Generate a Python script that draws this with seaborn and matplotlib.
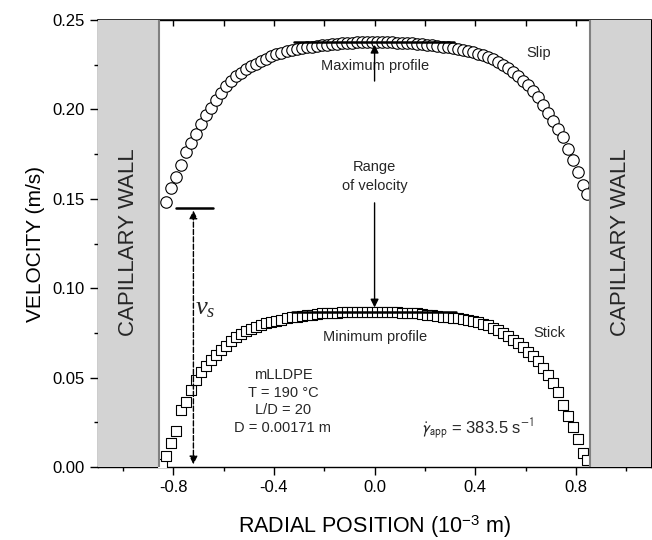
import matplotlib
matplotlib.use("Agg")
import matplotlib.pyplot as plt
import seaborn as sns
import pandas as pd
from matplotlib.ticker import MultipleLocator, FormatStrFormatter, NullFormatter

# radial positions (10^-3 m) and velocities (m/s)
slip_x = [-0.83, -0.81, -0.79, -0.77, -0.75, -0.73, -0.71, -0.69, -0.67, -0.65,
          -0.63, -0.61, -0.59, -0.57, -0.55, -0.53, -0.51, -0.49, -0.47, -0.45,
          -0.43, -0.41, -0.39, -0.37, -0.35, -0.33, -0.31, -0.29, -0.27, -0.25,
          -0.23, -0.21, -0.19, -0.17, -0.15, -0.13, -0.11, -0.09, -0.07, -0.05,
          -0.03, -0.01, 0.01, 0.03, 0.05, 0.07, 0.09, 0.11, 0.13, 0.15,
          0.17, 0.19, 0.21, 0.23, 0.25, 0.27, 0.29, 0.31, 0.33, 0.35,
          0.37, 0.39, 0.41, 0.43, 0.45, 0.47, 0.49, 0.51, 0.53, 0.55,
          0.57, 0.59, 0.61, 0.63, 0.65, 0.67, 0.69, 0.71, 0.73, 0.75,
          0.77, 0.79, 0.81, 0.83, 0.845]
slip_v = [0.148, 0.156, 0.162, 0.169, 0.176, 0.181, 0.186, 0.192, 0.197, 0.201,
          0.205, 0.209, 0.213, 0.216, 0.2185, 0.2205, 0.2225, 0.224, 0.2256, 0.227,
          0.2284, 0.2296, 0.2307, 0.2316, 0.2324, 0.2331, 0.2337, 0.2342, 0.2347, 0.2351,
          0.2355, 0.2359, 0.2362, 0.2365, 0.2368, 0.2370, 0.2372, 0.2374, 0.2375, 0.2376,
          0.2377, 0.2377, 0.2377, 0.2377, 0.2376, 0.2375, 0.2374, 0.2373, 0.2371, 0.2369,
          0.2367, 0.2364, 0.2361, 0.2358, 0.2355, 0.2351, 0.2347, 0.2343, 0.2338, 0.2332,
          0.2326, 0.2319, 0.2311, 0.2302, 0.2293, 0.2281, 0.2266, 0.225, 0.2232, 0.2208,
          0.2185, 0.216, 0.2135, 0.2105, 0.2068, 0.2027, 0.1978, 0.1935, 0.189, 0.1845,
          0.1778, 0.1718, 0.1652, 0.1575, 0.1525]

stick_x = [-0.845, -0.83, -0.81, -0.79, -0.77, -0.75, -0.73, -0.71, -0.69, -0.67,
           -0.65, -0.63, -0.61, -0.59, -0.57, -0.55, -0.53, -0.51, -0.49, -0.47,
           -0.45, -0.43, -0.41, -0.39, -0.37, -0.35, -0.33, -0.31, -0.29, -0.27,
           -0.25, -0.23, -0.21, -0.19, -0.17, -0.15, -0.13, -0.11, -0.09, -0.07,
           -0.05, -0.03, -0.01, 0.01, 0.03, 0.05, 0.07, 0.09, 0.11, 0.13,
           0.15, 0.17, 0.19, 0.21, 0.23, 0.25, 0.27, 0.29, 0.31, 0.33,
           0.35, 0.37, 0.39, 0.41, 0.43, 0.45, 0.47, 0.49, 0.51, 0.53,
           0.55, 0.57, 0.59, 0.61, 0.63, 0.65, 0.67, 0.69, 0.71, 0.73,
           0.75, 0.77, 0.79, 0.81, 0.83, 0.845]
stick_v = [0.002, 0.006, 0.0135, 0.020, 0.0319, 0.0365, 0.043, 0.0487, 0.0533, 0.0565,
           0.0597, 0.0628, 0.0655, 0.0678, 0.0704, 0.0727, 0.0744, 0.0759, 0.0773, 0.0785,
           0.0795, 0.0804, 0.0812, 0.0818, 0.0825, 0.0832, 0.0838, 0.0842, 0.0846, 0.085,
           0.0853, 0.0856, 0.0859, 0.0861, 0.0863, 0.0864, 0.0865, 0.0866, 0.0867, 0.0867,
           0.0867, 0.0867, 0.0867, 0.0867, 0.0867, 0.0866, 0.0866, 0.0865, 0.0864, 0.0863,
           0.0861, 0.0859, 0.0856, 0.0853, 0.0849, 0.0845, 0.0842, 0.0839, 0.0835, 0.0831,
           0.0826, 0.0820, 0.0815, 0.0809, 0.0800, 0.0792, 0.0780, 0.0765, 0.0748, 0.0733,
           0.0712, 0.0693, 0.0670, 0.0646, 0.0622, 0.0593, 0.0555, 0.0517, 0.0468, 0.0418,
           0.0348, 0.0285, 0.0222, 0.0155, 0.0080, 0.004]

wall_r = 0.855          # D / 2
max_profile = 0.2377
min_profile = 0.0867
vs_top = 0.145
vs_pos = -0.72

df_slip = pd.DataFrame({"r": slip_x, "v": slip_v})
df_stick = pd.DataFrame({"r": stick_x, "v": stick_v})

sns.set_theme(style="ticks")
plt.rcParams["font.family"] = ["Liberation Sans", "DejaVu Sans"]
plt.rcParams["mathtext.fontset"] = "custom"
plt.rcParams["mathtext.rm"] = "Liberation Sans"
plt.rcParams["mathtext.it"] = "Liberation Serif:italic"
plt.rcParams["axes.unicode_minus"] = False

fig, ax = plt.subplots(figsize=(6.52, 5.4), dpi=100)
fig.subplots_adjust(left=0.150, right=0.999, bottom=0.135, top=0.963)

sns.scatterplot(data=df_slip, x="r", y="v", ax=ax, marker="o", s=68,
                facecolor="white", edgecolor="black", linewidth=0.8, zorder=3)
sns.scatterplot(data=df_stick, x="r", y="v", ax=ax, marker="s", s=60,
                facecolor="white", edgecolor="black", linewidth=0.8, zorder=3)

# capillary walls
ax.axvspan(-1.1, -wall_r, color="#d3d3d3", zorder=4, lw=0)
ax.axvspan(wall_r, 1.1, color="#d3d3d3", zorder=4, lw=0)
ax.axvline(-wall_r, color="#808080", lw=1.5, zorder=5)
ax.axvline(wall_r, color="#808080", lw=1.5, zorder=5)
ax.text(-0.978, 0.126, "CAPILLARY WALL", rotation=90, ha="center", va="center",
        fontsize=16, zorder=6)
ax.text(0.978, 0.126, "CAPILLARY WALL", rotation=90, ha="center", va="center",
        fontsize=16, zorder=6)

# profile bars
ax.plot([-0.32, 0.317], [max_profile, max_profile], color="black", lw=1.8, zorder=5)
ax.plot([-0.33, 0.325], [min_profile, min_profile], color="black", lw=1.8, zorder=5)
ax.text(0.0, 0.2243, "Maximum profile", ha="center", va="center", fontsize=10.5)
ax.text(0.0, 0.0727, "Minimum profile", ha="center", va="center", fontsize=10.5)
ax.text(0.653, 0.2315, "Slip", ha="center", va="center", fontsize=10.5)
ax.text(0.693, 0.075, "Stick", ha="center", va="center", fontsize=10.5)

# range of velocity
ax.text(0.0, 0.1625, "Range\nof velocity", ha="center", va="center", fontsize=10.5,
        linespacing=1.5)
arrow = dict(arrowstyle="-|>", color="black", lw=1.0, mutation_scale=12)
ax.annotate("", xy=(0.0, max_profile), xytext=(0.0, 0.2143), arrowprops=arrow)
ax.annotate("", xy=(0.0, min_profile + 0.001), xytext=(0.0, 0.1493), arrowprops=arrow)

# slip velocity v_s
ax.plot([-0.788, -0.642], [vs_top, vs_top], color="black", lw=1.8, zorder=5)
dashed = dict(arrowstyle="<|-|>", color="black", lw=1.0, ls="--", mutation_scale=12)
ax.annotate("", xy=(vs_pos, vs_top), xytext=(vs_pos, 0.0), arrowprops=dashed)
ax.text(-0.675, 0.089, r"$\mathit{v}_{\mathit{s}}$", ha="center", va="center",
        fontsize=19)

# conditions
ax.text(-0.364, 0.0367, "mLLDPE\nT = 190 \u00b0C\nL/D = 20\nD = 0.00171 m",
        ha="center", va="center", fontsize=10.5, linespacing=1.35)
ax.text(0.41, 0.0215,
        r"$\dot{\mathit{\gamma}}_{\mathrm{app}}$ = 383.5 s$^{\mathrm{-1}}$",
        ha="center", va="center", fontsize=12, math_fontfamily="stixsans")

ax.set_xlim(-1.1, 1.1)
ax.set_ylim(0, 0.25)
ax.xaxis.set_major_locator(MultipleLocator(0.4))
ax.xaxis.set_minor_locator(MultipleLocator(0.2))
ax.yaxis.set_major_locator(MultipleLocator(0.05))
ax.yaxis.set_minor_locator(MultipleLocator(0.025))
ax.xaxis.set_major_formatter(FormatStrFormatter("%.1f"))
ax.yaxis.set_major_formatter(FormatStrFormatter("%.2f"))
ax.set_xticks([-0.8, -0.4, 0.0, 0.4, 0.8])

ax.tick_params(axis="both", which="major", labelsize=12, length=6, width=1,
               color="black", labelcolor="black", direction="out")
ax.tick_params(axis="both", which="minor", length=3, width=1, color="black",
               direction="out")

# inward ticks along the top edge
top = ax.secondary_xaxis("top")
top.xaxis.set_major_locator(MultipleLocator(0.2))
top.xaxis.set_major_formatter(NullFormatter())
top.tick_params(direction="in", length=4, width=1, color="black")

for sp in ax.spines.values():
    sp.set_color("black")
    sp.set_linewidth(1.0)

ax.set_xlabel("RADIAL POSITION (10$^{\\mathrm{-3}}$ m)", fontsize=15.5, color="black",
              labelpad=13)
ax.set_ylabel("VELOCITY (m/s)", fontsize=15, color="black", labelpad=5)

fig.savefig("out.png", dpi=100)
